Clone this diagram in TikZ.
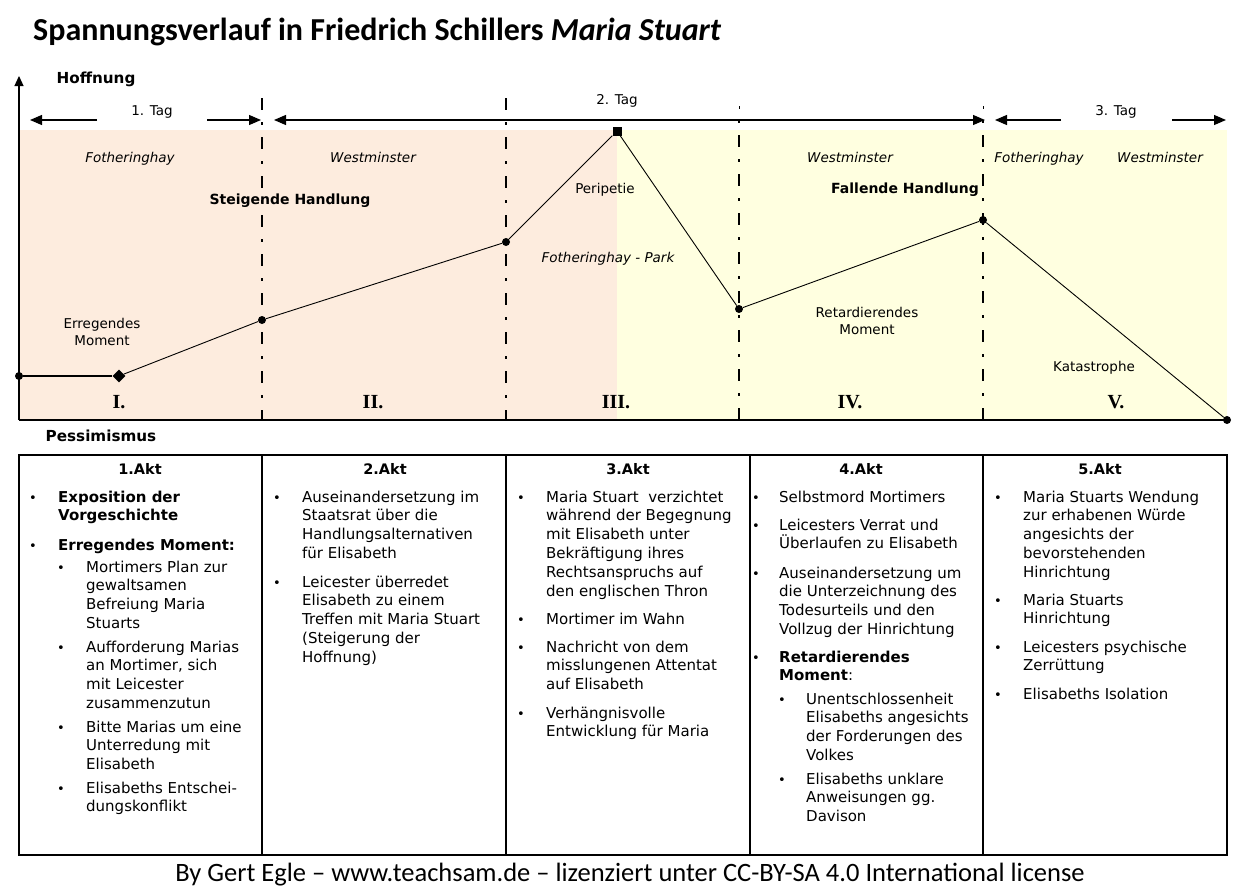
\documentclass[tikz,border=0pt]{standalone}
\usepackage{fontspec}
\setmainfont{DejaVu Sans}
\newfontfamily\calib{Carlito}
\newfontfamily\tms{Liberation Serif}
\usetikzlibrary{arrows.meta,shapes.geometric}
\definecolor{peach}{RGB}{253,236,222}
\definecolor{pale}{RGB}{255,255,224}
\begin{document}
\begin{tikzpicture}[x=1pt,y=-1pt,
  tx/.style={font=\fontsize{15}{18.9}\selectfont, inner sep=0pt, anchor=base west, align=left},
  txb/.style={tx, font=\bfseries\fontsize{15}{18.9}\selectfont},
  bul/.style={font=\fontsize{13}{18.9}\selectfont, inner sep=0pt, anchor=base},
  hd/.style={font=\bfseries\fontsize{14.5}{18}\selectfont, inner sep=0pt},
  lab/.style={font=\fontsize{13.5}{17}\selectfont, inner sep=0pt, align=center},
  itl/.style={lab, font=\itshape\fontsize{13.5}{17}\selectfont, anchor=base},
  bld/.style={font=\bfseries\fontsize{14}{17}\selectfont, inner sep=0pt},
  axl/.style={font=\bfseries\fontsize{15.2}{17}\selectfont, inner sep=0pt},
  roman/.style={font=\tms\bfseries\fontsize{20}{22}\selectfont, inner sep=0pt},
  divider/.style={line width=2.8pt, dash pattern=on 12pt off 12pt on 3pt off 12pt},
  divlate/.style={line width=2.8pt, dash pattern=on 3pt off 12pt on 12pt off 12pt},
  tip/.style={line width=1.2pt, -{Triangle[length=12pt,width=10pt]}},
  dot/.style={circle, fill=black, inner sep=0pt, minimum size=8pt},
  dia/.style={diamond, fill=black, inner sep=0pt, minimum size=13pt},
  sq/.style={rectangle, fill=black, inner sep=0pt, minimum size=9pt},
  curve/.style={line width=0.9pt}
]
\useasboundingbox (0,0) rectangle (1248,894);
\fill[white] (0,0) rectangle (1248,894);

% title
\node[font=\calib\bfseries\fontsize{32}{36}\selectfont, inner sep=0pt, anchor=base west] (title) at (33,40) {Spannungsverlauf in Friedrich Schillers \textit{Maria Stuart}};

% background areas
\fill[peach] (19,130) rectangle (617,420);
\fill[pale] (617,130) rectangle (1227,420);

% act dividers
\coordinate (d1t) at (262,98);  \coordinate (d1b) at (262,420);
\coordinate (d2t) at (506,98);  \coordinate (d2b) at (506,420);
\coordinate (d3t) at (739,120); \coordinate (d3b) at (739,420);
\coordinate (d4t) at (983,120); \coordinate (d4b) at (983,420);
\draw[divider] (d1t) -- (d1b);
\draw[divider] (d2t) -- (d2b);
\draw[divlate] (d3t) -- (d3b);
\draw[divlate] (d4t) -- (d4b);
\coordinate (k3a) at (739,106); \coordinate (k3b) at (739,109);
\coordinate (k4a) at (983,106); \coordinate (k4b) at (983,109);
\draw[line width=1pt] (k3a) -- (k3b);
\draw[line width=1pt] (k4a) -- (k4b);

% axes
\coordinate (o) at (19,420); \coordinate (ytop) at (19,76); \coordinate (xend) at (1227,420);
\draw[line width=1.2pt, -{Triangle[length=10pt,width=9pt]}] (o) -- (ytop);
\draw[line width=1.2pt] (o) -- (xend);
\node[axl] (hoff) at (96,79) {Hoffnung};
\node[axl] (pess) at (101,436) {Pessimismus};

% days
\coordinate (a1s) at (97,120);  \coordinate (a1e) at (30,120);
\coordinate (a2s) at (207,120); \coordinate (a2e) at (261,120);
\coordinate (b1) at (274,120);  \coordinate (b2) at (985,120);
\coordinate (c1s) at (1061,120); \coordinate (c1e) at (995,120);
\coordinate (c2s) at (1172,120); \coordinate (c2e) at (1226,120);
\draw[tip] (a1s) -- (a1e);
\draw[tip] (a2s) -- (a2e);
\draw[line width=1.2pt, {Triangle[length=12pt,width=10pt]}-{Triangle[length=12pt,width=10pt]}] (b1) -- (b2);
\draw[tip] (c1s) -- (c1e);
\draw[tip] (c2s) -- (c2e);
\node[lab] (tag1) at (152,112) {1. Tag};
\node[lab] (tag2) at (617,101) {2. Tag};
\node[lab] (tag3) at (1116,112) {3. Tag};

% places and labels
\node[itl] (pl1) at (130,162) {Fotheringhay};
\node[itl] (pl2) at (373,162) {Westminster};
\node[itl] (pl3) at (850,162) {Westminster};
\node[itl] (pl4) at (1039,162) {Fotheringhay};
\node[itl] (pl5) at (1160,162) {Westminster};
\node[itl] (pl6) at (608,262) {Fotheringhay - Park};
\node[bld] (steig) at (290,201) {Steigende Handlung};
\node[bld] (fall) at (905,190) {Fallende Handlung};
\node[lab] (peri) at (605,190) {Peripetie};
\node[lab] (erreg) at (102,332) {Erregendes\\Moment};
\node[lab] (retard) at (867,321) {Retardierendes\\Moment};
\node[lab] (kata) at (1094,368) {Katastrophe};
\node[roman] (r1) at (119,402) {I.};
\node[roman] (r2) at (373,402) {II.};
\node[roman] (r3) at (616,402) {III.};
\node[roman] (r4) at (850,402) {IV.};
\node[roman] (r5) at (1116,402) {V.};

% curve
\node[dot] (p0) at (19,376) {};
\node[dia] (p1) at (119,376) {};
\node[dot] (p2) at (262,320) {};
\node[dot] (p3) at (506,242) {};
\node[sq]  (p4) at (617,131) {};
\node[dot] (p5) at (739,309) {};
\node[dot] (p6) at (983,220) {};
\node[dot] (p7) at (1227,420) {};
\draw[line width=1.4pt] (p0) -- (p1);
\draw[curve] (p1) -- (p2) -- (p3) -- (p4) -- (p5) -- (p6) -- (p7);

% table
\coordinate (tl) at (19,455); \coordinate (br) at (1227,855);
\draw[line width=1.3pt] (tl) rectangle (br);
\coordinate (v1t) at (262,455); \coordinate (v1b) at (262,855);
\coordinate (v2t) at (506,455); \coordinate (v2b) at (506,855);
\coordinate (v3t) at (750,455); \coordinate (v3b) at (750,855);
\coordinate (v4t) at (983,455); \coordinate (v4b) at (983,855);
\draw[line width=2.2pt] (v1t) -- (v1b);
\draw[line width=1.3pt] (v2t) -- (v2b);
\draw[line width=1.3pt] (v3t) -- (v3b);
\draw[line width=2.2pt] (v4t) -- (v4b);

\node[hd] (h1) at (140,469) {1.Akt};
\node[hd] (h2) at (385,469) {2.Akt};
\node[hd] (h3) at (628,469) {3.Akt};
\node[hd] (h4) at (861,469) {4.Akt};
\node[hd] (h5) at (1100,469) {5.Akt};

% column 1 (multi-line nodes: base = last line)
\node[bul] (b11) at (33,502) {•};
\node[txb] (t11) at (58,520.9) {Exposition der\\Vorgeschichte};
\node[bul] (b12) at (33,550) {•};
\node[txb] (t12) at (58,550) {Erregendes Moment:};
\node[bul] (b13) at (61,572) {•};
\node[tx] (t13) at (86,628.7) {Mortimers Plan zur\\gewaltsamen\\Befreiung Maria\\Stuarts};
\node[bul] (b14) at (61,652) {•};
\node[tx] (t14) at (86,708.7) {Aufforderung Marias\\an Mortimer, sich\\mit Leicester\\zusammenzutun};
\node[bul] (b15) at (61,732) {•};
\node[tx] (t15) at (86,769.8) {Bitte Marias um eine\\Unterredung mit\\Elisabeth};
\node[bul] (b16) at (61,793) {•};
\node[tx] (t16) at (86,811.9) {Elisabeths Entschei-\\dungskonflikt};

% column 2
\node[bul] (b21) at (277,502) {•};
\node[tx] (t21) at (302,558.7) {Auseinandersetzung im\\Staatsrat über die\\Handlungsalternativen\\für Elisabeth};
\node[bul] (b22) at (277,587) {•};
\node[tx] (t22) at (302,662.6) {Leicester überredet\\Elisabeth zu einem\\Treffen mit Maria Stuart\\(Steigerung der\\Hoffnung)};

% column 3
\node[bul] (b31) at (521,502) {•};
\node[tx] (t31) at (546,596.5) {Maria Stuart\ \ verzichtet\\während der Begegnung\\mit Elisabeth unter\\Bekräftigung ihres\\Rechtsanspruchs auf\\den englischen Thron};
\node[bul] (b32) at (521,624) {•};
\node[tx] (t32) at (546,624) {Mortimer im Wahn};
\node[bul] (b33) at (521,652) {•};
\node[tx] (t33) at (546,689.8) {Nachricht von dem\\misslungenen Attentat\\auf Elisabeth};
\node[bul] (b34) at (521,718) {•};
\node[tx] (t34) at (546,736.9) {Verhängnisvolle\\Entwicklung für Maria};

% column 4
\node[bul] (b41) at (756,502) {•};
\node[tx] (t41) at (779,502) {Selbstmord Mortimers};
\node[bul] (b42) at (756,530) {•};
\node[tx] (t42) at (779,548.9) {Leicesters Verrat und\\Überlaufen zu Elisabeth};
\node[bul] (b43) at (756,578) {•};
\node[tx] (t43) at (779,634.7) {Auseinandersetzung um\\die Unterzeichnung des\\Todesurteils und den\\Vollzug der Hinrichtung};
\node[bul] (b44) at (756,662) {•};
\node[tx] (t44) at (779,680.9) {{\bfseries Retardierendes}\\{\bfseries Moment}:};
\node[bul] (b45) at (782,704) {•};
\node[tx] (t45) at (806,760.7) {Unentschlossenheit\\Elisabeths angesichts\\der Forderungen des\\Volkes};
\node[bul] (b46) at (782,784) {•};
\node[tx] (t46) at (806,821.8) {Elisabeths unklare\\Anweisungen gg.\\Davison};

% column 5
\node[bul] (b51) at (998,502) {•};
\node[tx] (t51) at (1023,577.6) {Maria Stuarts Wendung\\zur erhabenen Würde\\angesichts der\\bevorstehenden\\Hinrichtung};
\node[bul] (b52) at (998,605) {•};
\node[tx] (t52) at (1023,623.9) {Maria Stuarts\\Hinrichtung};
\node[bul] (b53) at (998,652) {•};
\node[tx] (t53) at (1023,670.9) {Leicesters psychische\\Zerrüttung};
\node[bul] (b54) at (998,699) {•};
\node[tx] (t54) at (1023,699) {Elisabeths Isolation};

% footer
\node[font=\calib\fontsize{26.5}{30}\selectfont, inner sep=0pt, anchor=base] (foot) at (630,881) {By Gert Egle – www.teachsam.de – lizenziert unter CC-BY-SA 4.0 International license};
\end{tikzpicture}
\end{document}
